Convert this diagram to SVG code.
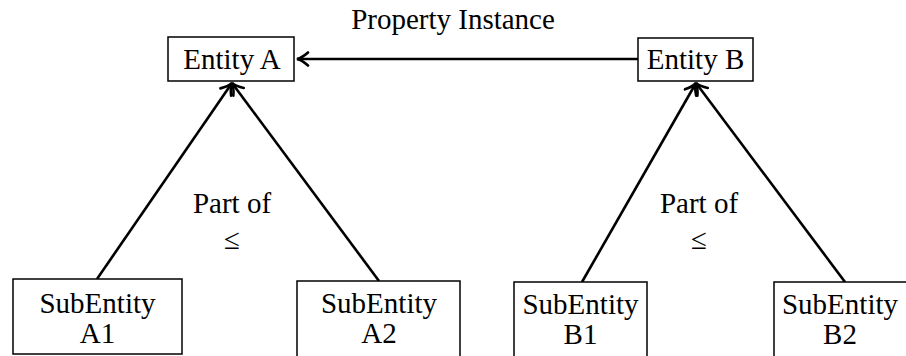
<svg xmlns="http://www.w3.org/2000/svg" width="906" height="356" viewBox="0 0 906 356">
  <defs>
    <style>
      .box { fill: #ffffff; stroke: #000000; stroke-width: 1.5; }
      .lbl { font-family: "Liberation Serif", "Times New Roman", serif; font-size: 29px; fill: #000000; text-anchor: middle; }
      .edge { stroke: #000000; stroke-width: 2.6; fill: none; marker-end: url(#head); }
    </style>
    <marker id="head" markerUnits="userSpaceOnUse" viewBox="-13 -8 15 16" markerWidth="15" markerHeight="16" refX="0" refY="0" orient="auto">
      <path d="M-11,-6.5 Q-5,-1.2 0,0 Q-5,1.2 -11,6.5" fill="none" stroke="#000000" stroke-width="2.6" stroke-linecap="round"/>
    </marker>
  </defs>

  <rect width="906" height="356" fill="#ffffff"/>

  <!-- connectors -->
  <g id="connectors">
    <line class="edge" x1="638" y1="59" x2="297" y2="59"/>
    <line class="edge" x1="97" y1="279" x2="232" y2="83"/>
    <line class="edge" x1="379" y1="281" x2="232" y2="83"/>
    <line class="edge" x1="582" y1="282" x2="696" y2="83"/>
    <line class="edge" x1="845" y1="282" x2="696" y2="83"/>
    <text class="lbl" x="453" y="29" font-size="28">Property Instance</text>
    <text class="lbl" x="232" y="213">Part of</text>
    <text class="lbl" x="232" y="249" font-size="33">≤</text>
    <text class="lbl" x="699" y="213">Part of</text>
    <text class="lbl" x="699" y="249" font-size="33">≤</text>
  </g>

  <!-- top-level entities -->
  <g id="entity-a">
    <rect class="box" x="168" y="37" width="126" height="44"/>
    <text class="lbl" x="232" y="69" font-size="30">Entity A</text>
  </g>
  <g id="entity-b">
    <rect class="box" x="638" y="38" width="115" height="43"/>
    <text class="lbl" x="695.5" y="69" font-size="30">Entity B</text>
  </g>

  <!-- sub-entities -->
  <g id="sub-a1">
    <rect class="box" x="13" y="279" width="169" height="75"/>
    <text class="lbl" x="97.5" y="313">SubEntity</text>
    <text class="lbl" x="97.5" y="343">A1</text>
  </g>
  <g id="sub-a2">
    <rect class="box" x="297" y="281" width="163" height="80"/>
    <text class="lbl" x="379" y="313">SubEntity</text>
    <text class="lbl" x="379" y="343">A2</text>
  </g>
  <g id="sub-b1">
    <rect class="box" x="514" y="282" width="133" height="80"/>
    <text class="lbl" x="580.5" y="314">SubEntity</text>
    <text class="lbl" x="580.5" y="344">B1</text>
  </g>
  <g id="sub-b2">
    <rect class="box" x="774" y="282" width="140" height="80"/>
    <text class="lbl" x="840" y="314">SubEntity</text>
    <text class="lbl" x="840" y="344">B2</text>
  </g>
</svg>
